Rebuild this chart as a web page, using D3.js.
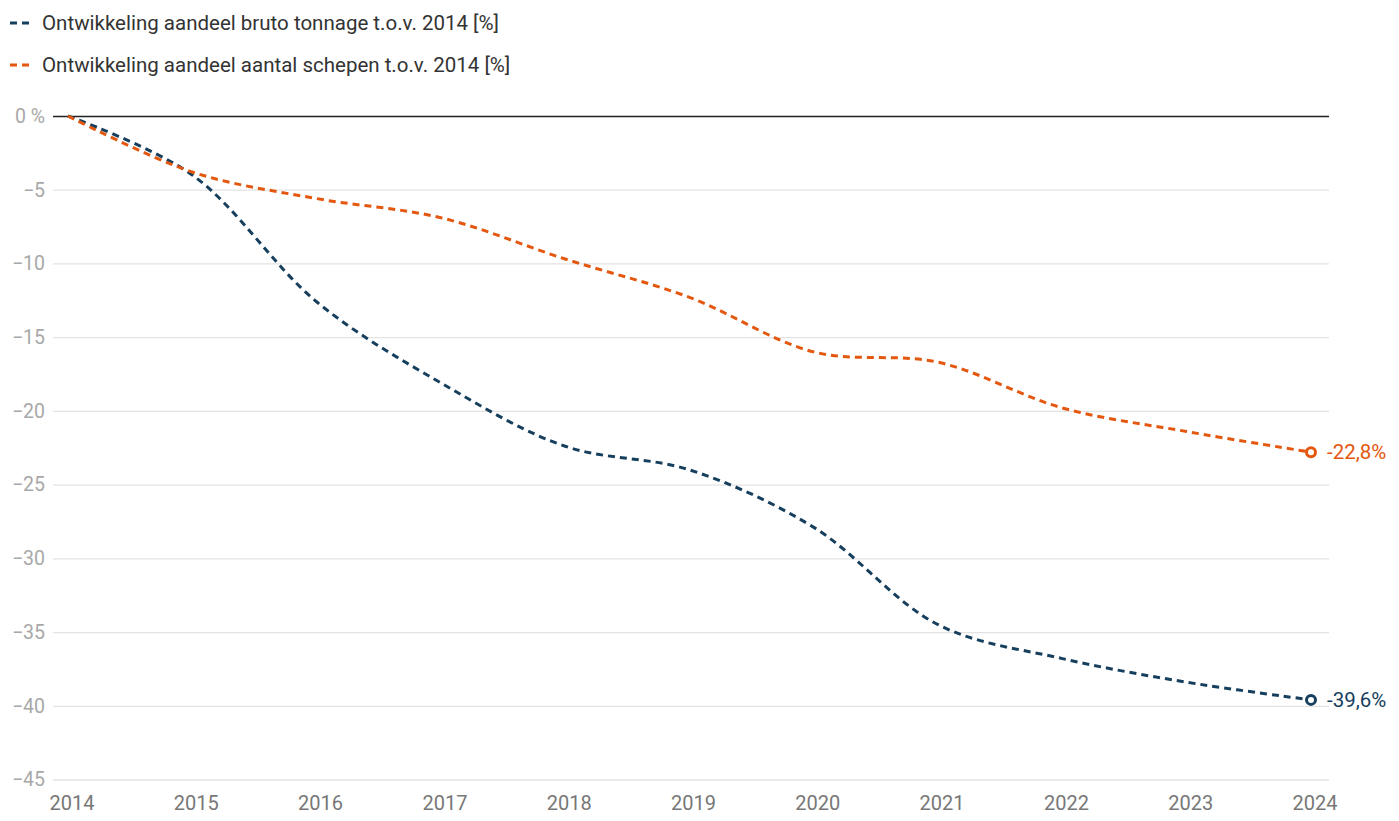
<!DOCTYPE html>
<html>
<head>
<meta charset="utf-8">
<script src="https://cdn.jsdelivr.net/npm/d3@7"></script>
<style>
  body { margin: 0; background: #fff; }
  text { font-family: Roboto, "Noto Sans", sans-serif; }
</style>
</head>
<body>
<div id="chart"></div>
<script>
var width = 1399,
    height = 821;

var years = [2014, 2015, 2016, 2017, 2018, 2019, 2020, 2021, 2022, 2023, 2024];
var tonnage = [0, -4.0, -12.6, -18.1, -22.4, -24.0, -27.9, -34.5, -36.8, -38.4, -39.6];
var schepen = [0, -3.8, -5.6, -6.9, -9.7, -12.3, -16.0, -16.7, -19.8, -21.4, -22.8];
var yTicks = [0, -5, -10, -15, -20, -25, -30, -35, -40, -45];

var series = [
  {name: "Ontwikkeling aandeel bruto tonnage t.o.v. 2014 [%]", values: tonnage, color: "#163f5e", label: "-39,6%"},
  {name: "Ontwikkeling aandeel aantal schepen t.o.v. 2014 [%]", values: schepen, color: "#e4570f", label: "-22,8%"}
];

var x = d3.scaleLinear().domain([2014, 2024]).range([68, 1311]);
var y = d3.scaleLinear().domain([-45, 0]).range([779.5, 116]);

var svg = d3.select("#chart").append("svg")
    .attr("width", width)
    .attr("height", height);

// legend
var legend = svg.append("g").selectAll("g")
    .data(series)
  .enter().append("g")
    .attr("transform", function(d, i) { return "translate(10," + (23 + i * 42) + ")"; });

legend.append("line")
    .attr("x1", 0).attr("x2", 23)
    .attr("stroke", function(d) { return d.color; })
    .attr("stroke-width", 3)
    .attr("stroke-dasharray", "7,5");

legend.append("text")
    .attr("x", 32)
    .attr("dy", "0.35em")
    .attr("fill", "#333")
    .style("font-size", "20.5px")
    .text(function(d) { return d.name; });

// grid
var grid = svg.append("g");
grid.selectAll("line")
    .data(yTicks)
  .enter().append("line")
    .attr("x1", 53).attr("x2", 1329)
    .attr("y1", function(d) { return y(d) + 0.5; })
    .attr("y2", function(d) { return y(d) + 0.5; })
    .attr("stroke", function(d) { return d === 0 ? "#222" : "#e3e3e3"; })
    .attr("stroke-width", 1.3);

grid.selectAll("text")
    .data(yTicks)
  .enter().append("text")
    .attr("x", 45)
    .attr("y", function(d) { return y(d); })
    .attr("dy", "0.35em")
    .attr("text-anchor", "end")
    .attr("fill", "#a8a8a8")
    .style("font-size", "19.5px")
    .text(function(d) { return d === 0 ? "0 %" : "\u2212" + Math.abs(d); });

// x axis labels
svg.append("g").selectAll("text")
    .data(years)
  .enter().append("text")
    .attr("x", function(d) { return x(d) + 4; })
    .attr("y", 810)
    .attr("text-anchor", "middle")
    .attr("fill", "#777")
    .style("font-size", "20px")
    .text(function(d) { return d; });

// lines
var line = d3.line()
    .curve(d3.curveCatmullRom.alpha(0.5))
    .x(function(d, i) { return x(years[i]); })
    .y(function(d) { return y(d); });

svg.append("g").selectAll("path")
    .data(series)
  .enter().append("path")
    .attr("d", function(d) { return line(d.values); })
    .attr("fill", "none")
    .attr("stroke", function(d) { return d.color; })
    .attr("stroke-width", 3)
    .attr("stroke-dasharray", "7,5");

// end markers
var last = years.length - 1;
var ends = svg.append("g").selectAll("g")
    .data(series)
  .enter().append("g")
    .attr("transform", function(d) { return "translate(" + x(years[last]) + "," + y(d.values[last]) + ")"; });

ends.append("circle")
    .attr("r", 4.5)
    .attr("fill", "#fff")
    .attr("stroke", function(d) { return d.color; })
    .attr("stroke-width", 3);

ends.append("text")
    .attr("x", 16)
    .attr("dy", "0.35em")
    .attr("fill", function(d) { return d.color; })
    .style("font-size", "20.5px")
    .text(function(d) { return d.label; });
</script>
</body>
</html>
